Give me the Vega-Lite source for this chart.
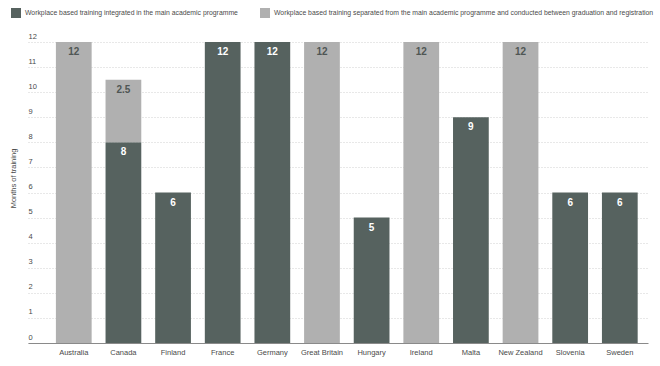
{
  "$schema": "https://vega.github.io/schema/vega-lite/v6.json",
  "width": 620,
  "height": 301,
  "autosize": "none",
  "padding": {"left": 28, "top": 42, "right": 12, "bottom": 23},
  "background": "white",
  "config": {
    "font": "Liberation Sans",
    "view": {"stroke": null}
  },
  "data": {
    "values": [
      {"country": "Australia", "type": "Workplace based training separated from the main academic programme and conducted between graduation and registration", "months": 12},
      {"country": "Canada", "type": "Workplace based training integrated in the main academic programme", "months": 8},
      {"country": "Canada", "type": "Workplace based training separated from the main academic programme and conducted between graduation and registration", "months": 2.5},
      {"country": "Finland", "type": "Workplace based training integrated in the main academic programme", "months": 6},
      {"country": "France", "type": "Workplace based training integrated in the main academic programme", "months": 12},
      {"country": "Germany", "type": "Workplace based training integrated in the main academic programme", "months": 12},
      {"country": "Great Britain", "type": "Workplace based training separated from the main academic programme and conducted between graduation and registration", "months": 12},
      {"country": "Hungary", "type": "Workplace based training integrated in the main academic programme", "months": 5},
      {"country": "Ireland", "type": "Workplace based training separated from the main academic programme and conducted between graduation and registration", "months": 12},
      {"country": "Malta", "type": "Workplace based training integrated in the main academic programme", "months": 9},
      {"country": "New Zealand", "type": "Workplace based training separated from the main academic programme and conducted between graduation and registration", "months": 12},
      {"country": "Slovenia", "type": "Workplace based training integrated in the main academic programme", "months": 6},
      {"country": "Sweden", "type": "Workplace based training integrated in the main academic programme", "months": 6}
    ]
  },
  "encoding": {
    "x": {
      "field": "country",
      "type": "nominal",
      "sort": null,
      "scale": {"paddingInner": 0.28, "paddingOuter": 0.385, "align": 0.73},
      "axis": {
        "title": null,
        "labelAngle": 0,
        "labelFontSize": 7.5,
        "labelColor": "#4a4a4a",
        "labelPadding": 5,
        "ticks": false,
        "domainColor": "#8a8a8a",
        "domainWidth": 1
      }
    },
    "y": {
      "field": "months",
      "type": "quantitative",
      "stack": "zero",
      "scale": {"domain": [0, 12], "nice": false},
      "axis": {
        "title": "Months of training",
        "titleFontSize": 7.5,
        "titleFontWeight": "normal",
        "titleColor": "#4a4a4a",
        "titleX": -15,
        "titleY": 136,
        "titleBaseline": "middle",
        "titleAngle": -90,
        "values": [0, 1, 2, 3, 4, 5, 6, 7, 8, 9, 10, 11, 12],
        "domain": false,
        "ticks": false,
        "tickSize": 0,
        "labelAlign": "left",
        "labelBaseline": "bottom",
        "labelPadding": 0,
        "labelOffset": -2,
        "labelFontSize": 7.5,
        "labelColor": "#4a4a4a",
        "grid": true,
        "gridColor": "#c4c4c4",
        "gridDash": [1, 2],
        "gridWidth": 0.8
      }
    },
    "order": {"field": "type", "sort": "ascending"}
  },
  "layer": [
    {
      "mark": {"type": "bar"},
      "encoding": {
        "color": {
          "field": "type",
          "type": "nominal",
          "scale": {"range": ["#56625f", "#b0b0b0"]},
          "legend": {
            "title": null,
            "orient": "none",
            "direction": "horizontal",
            "legendX": -17,
            "legendY": -34,
            "symbolType": "square",
            "symbolSize": 100,
            "symbolStrokeWidth": 0,
            "symbolOpacity": 1,
            "labelFontSize": 6.85,
            "labelColor": "#4a4a4a",
            "labelLimit": 0,
            "labelOffset": 4,
            "columnPadding": 22
          }
        }
      }
    },
    {
      "mark": {"type": "text", "baseline": "top", "dy": 5, "fontSize": 10, "fontWeight": "bold"},
      "encoding": {
        "text": {"field": "months", "type": "quantitative"},
        "color": {
          "field": "type",
          "type": "nominal",
          "scale": {"range": ["#ffffff", "#4f5654"]},
          "legend": null
        }
      }
    }
  ],
  "resolve": {"scale": {"color": "independent"}}
}
